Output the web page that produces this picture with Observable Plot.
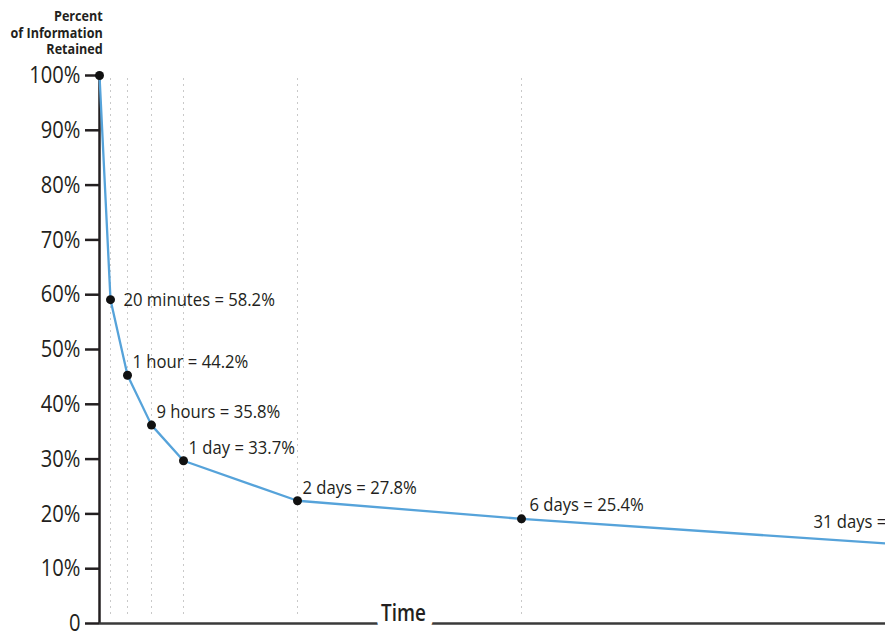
<!DOCTYPE html>
<html><head><meta charset="utf-8">
<script src="https://cdn.jsdelivr.net/npm/d3@7"></script>
<script src="https://cdn.jsdelivr.net/npm/@observablehq/plot@0.6"></script>
<style>
body{margin:0;background:#fff;overflow:hidden;width:885px;height:632px;position:relative;font-family:"Open Sans",sans-serif;}
#title{position:absolute;right:782px;top:7px;text-align:right;white-space:nowrap;font-weight:bold;font-size:15px;line-height:16.7px;color:#231f20;transform:scaleX(0.84);transform-origin:100% 0;}
#chart{position:absolute;left:0;top:0;}
</style></head><body>
<div id="chart"></div>
<div id="title">Percent<br>of Information<br>Retained</div>
<script>
// Data
const timeLabels = ["0", "20 minutes", "1 hour", "9 hours", "1 day", "2 days", "6 days", "31 days"];
const hours = [0, 1/3, 1, 9, 24, 48, 144, 744];
const retainedPlotted = [100, 59.1, 45.3, 36.2, 29.7, 22.4, 19.1, 13.8];
const retainedLabel = [null, 58.2, 44.2, 35.8, 33.7, 27.8, 25.4, 21.1];
const yTicks = [0, 10, 20, 30, 40, 50, 60, 70, 80, 90, 100];
const xAxisTitle = "Time";

const data = timeLabels.map((t, i) => ({
  time: t, hours: hours[i], plotted: retainedPlotted[i],
  label: retainedLabel[i] == null ? null : `${t} = ${retainedLabel[i]}%`, i
}));

const ink = "#231f20";
const fontFamily = '"Open Sans",sans-serif';

const chart = Plot.plot({
  width: 885, height: 632,
  marginTop: 75, marginBottom: 9, marginLeft: 99, marginRight: 0,
  style: {fontFamily, color: ink, background: "white", overflow: "hidden"},
  x: {type: "linear", domain: hours, range: [99, 110, 127, 151, 183, 297, 521, 950], axis: null},
  y: {domain: [0, 100], axis: null},
  marks: [
    Plot.ruleX(data.filter(d => d.i > 0 && d.i < 7), {x: "hours", stroke: "#c9c9c9", strokeWidth: 1, strokeDasharray: "2,4", insetTop: 3, insetBottom: 6}),
    Plot.axisY({ticks: yTicks, label: null, tickFormat: d => d === 0 ? "0" : d + "%", tickSize: 14, tickPadding: 5, fontSize: 24, strokeWidth: 2.5, stroke: ink, fill: ink}),
    Plot.ruleX([0], {stroke: ink, strokeWidth: 2.5}),
    Plot.ruleY([0], {stroke: "#3a3a3a", strokeWidth: 2.5}),
    Plot.text([xAxisTitle], {frameAnchor: "bottom", dx: -89, dy: -3, fontSize: 22.5, fontWeight: 600, fill: ink, stroke: "white", strokeWidth: 19, paintOrder: "stroke"}),
    Plot.line(data, {x: "hours", y: "plotted", stroke: "#56a3da", strokeWidth: 2.3}),
    Plot.dot(data, {x: "hours", y: "plotted", r: 4.5, fill: "#111", stroke: "none"}),
    Plot.text(data.filter(d => d.i === 1), {className: "ann", x: "hours", y: "plotted", text: "label", textAnchor: "start", dx: 13, dy: 0, fontSize: 18.6, fill: ink}),
    Plot.text(data.filter(d => d.i >= 2 && d.i <= 5), {className: "ann", x: "hours", y: "plotted", text: "label", textAnchor: "start", dx: 5, dy: -13, fontSize: 18.6, fill: ink}),
    Plot.text(data.filter(d => d.i === 6), {className: "ann", x: "hours", y: "plotted", text: "label", textAnchor: "start", dx: 8, dy: -14, fontSize: 18.6, fill: ink}),
    Plot.text(data.filter(d => d.i === 7), {className: "ann", x: "hours", y: "plotted", text: "label", textAnchor: "start", dx: -137, dy: -26, fontSize: 18.6, fill: ink})
  ]
});
// condense all chart texts horizontally around their anchors (the reference uses a condensed face)
chart.querySelectorAll("text").forEach(t => {
  const s = t.closest(".ann") ? 0.895 : 0.84;
  let tr = t.getAttribute("transform") || "";
  const x = t.getAttribute("x");
  if (x != null && isFinite(+x)) { tr += ` translate(${+x},0)`; t.removeAttribute("x"); }
  t.setAttribute("transform", (tr + ` scale(${s},1)`).trim());
});
document.getElementById("chart").appendChild(chart);
</script>
</body></html>
